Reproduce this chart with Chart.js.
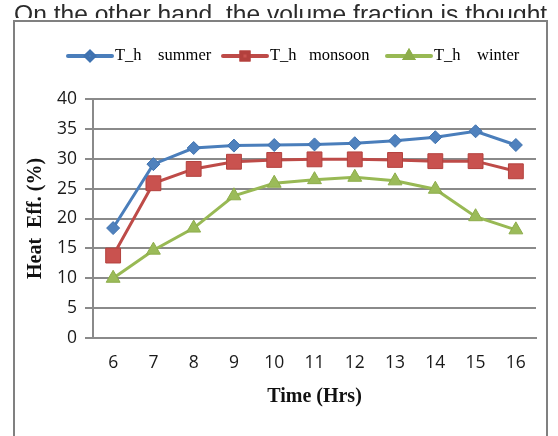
<!DOCTYPE html>
<html>
<head>
<meta charset="utf-8">
<script src="https://cdn.jsdelivr.net/npm/chart.js@4.4.1/dist/chart.umd.min.js"></script>
<style>
  html, body { margin: 0; padding: 0; background: #fff; }
  #wrap { width: 558px; height: 436px; position: relative; }
</style>
</head>
<body>
<div id="wrap"><canvas id="c" width="558" height="436"></canvas></div>
<script>
// Hour of day (categories)
const hours = ['6', '7', '8', '9', '10', '11', '12', '13', '14', '15', '16'];
// Heat efficiency (%) per season
const summer  = [18.4, 29.1, 31.8, 32.2, 32.3, 32.4, 32.6, 33.0, 33.6, 34.6, 32.3];
const monsoon = [13.8, 25.9, 28.3, 29.5, 29.8, 29.9, 29.9, 29.8, 29.6, 29.6, 27.9];
const winter  = [10.0, 14.7, 18.4, 23.8, 25.9, 26.5, 26.9, 26.3, 24.9, 20.3, 18.1];
// Value axis ticks
const yTicks = [0, 5, 10, 15, 20, 25, 30, 35, 40];
// Series names
const seriesNames = ['T_h    summer', 'T_h   monsoon', 'T_h    winter'];

const GRID = '#8a8a8a';
const SERIF = '"Liberation Serif", "Times New Roman", serif';
const SANS = '"Open Sans", "Liberation Sans", sans-serif';
// Left edge of each legend entry
const legendX = [68, 223, 387];

// Page frame, the running paragraph line above it, and the legend row
const decor = {
  id: 'decor',
  beforeDraw(chart) {
    const ctx = chart.ctx;
    ctx.save();
    ctx.fillStyle = '#fff';
    ctx.fillRect(0, 0, chart.width, chart.height);

    // paragraph line, partly hidden behind the chart frame
    ctx.fillStyle = '#2b2b2b';
    ctx.font = '24.6px "Liberation Sans", Arial, sans-serif';
    ctx.textBaseline = 'alphabetic';
    ctx.textAlign = 'left';
    ctx.fillText('On the other hand, the volume fraction is thought', 14, 22);
    ctx.fillStyle = '#fff';
    ctx.fillRect(0, 18, chart.width, chart.height);

    ctx.strokeStyle = '#808080';
    ctx.lineWidth = 2;
    ctx.beginPath();
    ctx.moveTo(14, chart.height + 2);
    ctx.lineTo(14, 21);
    ctx.lineTo(547, 21);
    ctx.lineTo(547, chart.height + 2);
    ctx.stroke();
    ctx.restore();
  },
  afterDraw(chart) {
    const ctx = chart.ctx;
    ctx.save();
    ctx.font = '16.5px ' + SERIF;
    ctx.textBaseline = 'middle';
    ctx.textAlign = 'left';
    const y = 56;
    chart.data.datasets.forEach((ds, i) => {
      const x = legendX[i];
      ctx.strokeStyle = ds.borderColor;
      ctx.lineWidth = 4;
      ctx.lineCap = 'round';
      ctx.beginPath();
      ctx.moveTo(x, y);
      ctx.lineTo(x + 44, y);
      ctx.stroke();
      Chart.helpers.drawPoint(ctx, {
        pointStyle: ds.pointStyle,
        radius: ds.pointStyle === 'rect' ? 5 : 4,
        borderWidth: 1,
        rotation: 0
      }, x + 22, y);
      ctx.fillStyle = ds.pointBackgroundColor;
      ctx.strokeStyle = ds.pointBorderColor;
      ctx.fill();
      ctx.stroke();
      ctx.fillStyle = '#000';
      ctx.fillText(ds.label, x + 47, y);
    });
    ctx.restore();
  }
};

new Chart(document.getElementById('c'), {
  type: 'line',
  data: {
    labels: hours,
    datasets: [
      {
        label: seriesNames[0], data: summer,
        borderColor: '#4a7ebb', borderWidth: 3,
        pointStyle: 'rectRot', pointRadius: 6.5,
        pointBackgroundColor: '#4f81bd', pointBorderColor: '#3f72b0', pointBorderWidth: 1
      },
      {
        label: seriesNames[1], data: monsoon,
        borderColor: '#be4b48', borderWidth: 3,
        pointStyle: 'rect', pointRadius: 10.5,
        pointBackgroundColor: '#c9524f', pointBorderColor: '#b3403d', pointBorderWidth: 1
      },
      {
        label: seriesNames[2], data: winter,
        borderColor: '#98b954', borderWidth: 3,
        pointStyle: 'triangle', pointRadius: 8,
        pointBackgroundColor: '#9bbb59', pointBorderColor: '#8dad4b', pointBorderWidth: 1
      }
    ]
  },
  options: {
    responsive: false,
    animation: false,
    devicePixelRatio: 1,
    layout: { padding: { top: 99, right: 22, left: 0, bottom: 0 } },
    elements: { line: { tension: 0 } },
    plugins: {
      legend: { display: false },
      tooltip: { enabled: false }
    },
    scales: {
      x: {
        type: 'category',
        offset: true,
        grid: { display: false, drawTicks: false },
        border: { display: true, color: GRID, width: 2 },
        ticks: {
          color: '#1a1a1a',
          font: { family: SANS, size: 17.5 },
          padding: 15,
          maxRotation: 0,
          autoSkip: false
        },
        title: {
          display: true,
          text: 'Time (Hrs)',
          color: '#111',
          font: { family: SERIF, size: 20, weight: 'bold' },
          padding: { top: 0, bottom: 27 }
        },
        afterFit(scale) { scale.height = 98; }
      },
      y: {
        min: 0, max: 40,
        afterBuildTicks(scale) { scale.ticks = yTicks.map(v => ({ value: v })); },
        grid: { color: GRID, lineWidth: 2, tickLength: 8, drawTicks: true },
        border: { display: true, color: GRID, width: 2 },
        ticks: {
          color: '#1a1a1a',
          font: { family: SANS, size: 17.5 },
          padding: 8
        },
        title: {
          display: true,
          text: 'Heat  Eff. (%)',
          color: '#111',
          font: { family: SERIF, size: 20, weight: 'bold' },
          padding: { top: 24, bottom: 0 }
        },
        afterFit(scale) { scale.width = 93; }
      }
    }
  },
  plugins: [decor]
});
</script>
</body>
</html>
